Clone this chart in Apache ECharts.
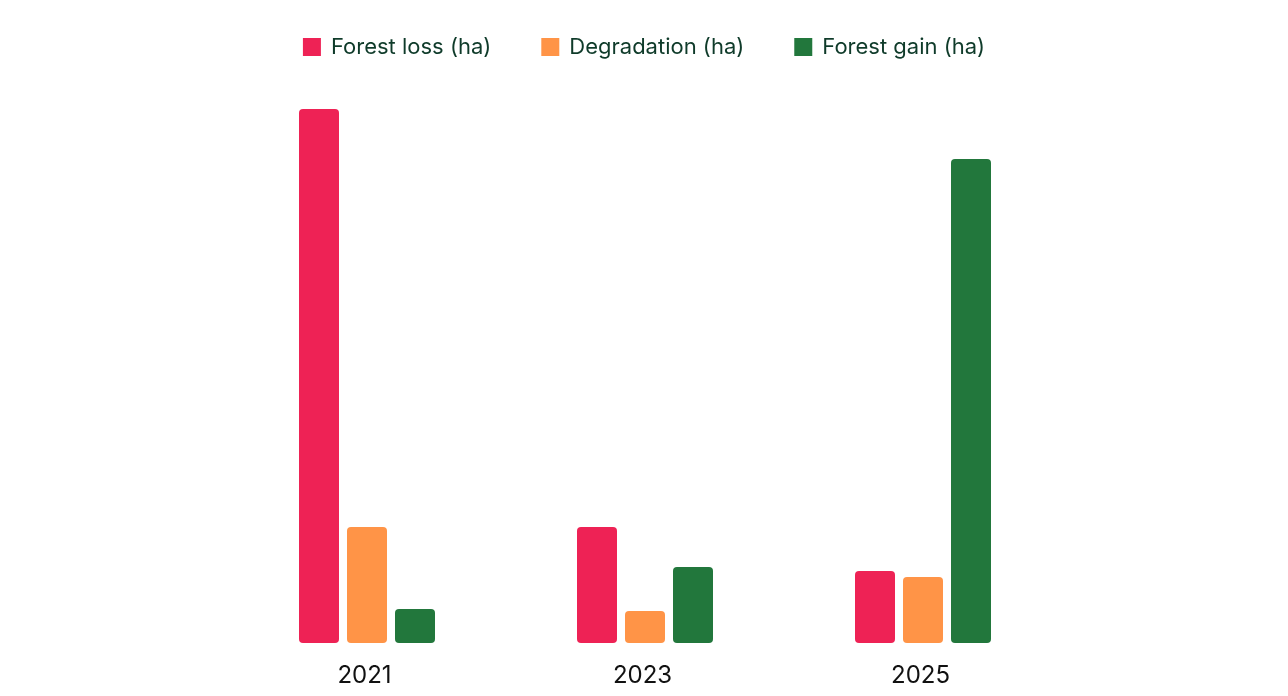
<!doctype html>
<html>
<head>
    <meta charset="utf-8">
    <title>Forest change</title>
    <style>
        html, body{
            width: 100%;height: 100%;
            margin: 0;
            background-color: #fff;
        }
        #chartBox{
            width: 1288px;
            height: 696px;
        }
    </style>
</head>
<body>
    <div id="chartBox"></div>
</body>
<script type="text/javascript" src="https://cdn.jsdelivr.net/npm/echarts@6/dist/echarts.min.js"></script>
<script type="text/javascript">
    //数据
    var years = ['2021', '2023', '2025'];
    var forestLoss = [534, 116, 72];
    var degradation = [116, 32, 66];
    var forestGain = [34, 76, 484];

    function chartInit(){
        var myChart = echarts.init(document.getElementById("chartBox"));
        var barRadius = [4, 4, 4, 4];
        var option = {
            animation: false,
            textStyle: {
                fontFamily: 'Inter'
            },
            legend: {
                top: 31,
                left: 'center',
                itemWidth: 18,
                itemHeight: 18,
                itemGap: 50,
                icon: 'rect',
                textStyle: {
                    fontFamily: 'Inter',
                    fontSize: 22,
                    color: '#0f3b2a',
                    padding: [0, 0, 0, 5]
                },
                data: ['Forest loss (ha)', 'Degradation (ha)', 'Forest gain (ha)']
            },
            grid: {
                left: 228,
                right: 226,
                top: 109,
                bottom: 53
            },
            xAxis: {
                type: 'category',
                data: years,
                axisLine: {show: false},
                axisTick: {show: false},
                axisLabel: {
                    fontFamily: 'Inter',
                    fontSize: 24,
                    color: '#111',
                    margin: 21,
                    padding: [0, 5, 0, 0]
                }
            },
            yAxis: {
                type: 'value',
                min: 0,
                max: 534,
                show: false,
                splitLine: {show: false}
            },
            series: [{
                name: 'Forest loss (ha)',
                type: 'bar',
                data: forestLoss,
                barWidth: 40,
                barGap: '20%',
                itemStyle: {color: '#ee2255', borderRadius: barRadius}
            }, {
                name: 'Degradation (ha)',
                type: 'bar',
                data: degradation,
                barWidth: 40,
                barGap: '20%',
                itemStyle: {color: '#ff9447', borderRadius: barRadius}
            }, {
                name: 'Forest gain (ha)',
                type: 'bar',
                data: forestGain,
                barWidth: 40,
                barGap: '20%',
                itemStyle: {color: '#22773c', borderRadius: barRadius}
            }]
        };
        myChart.setOption(option);
    }
    chartInit();
</script>
</html>
